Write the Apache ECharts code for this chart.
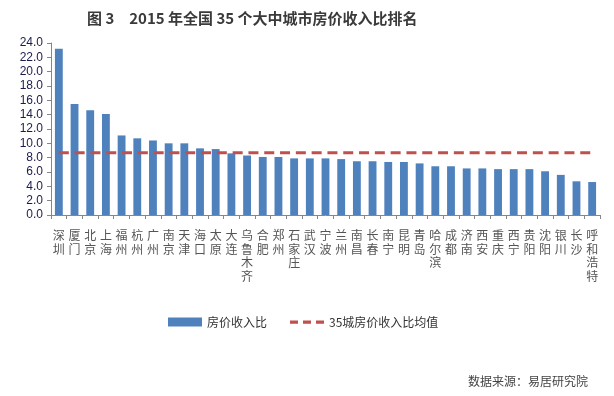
<!DOCTYPE html>
<html><head><meta charset="utf-8">
<script src="https://cdn.jsdelivr.net/npm/echarts@6/dist/echarts.min.js"></script>
<style>html,body{margin:0;padding:0;background:#fff}#c{width:614px;height:396px}</style>
</head><body><div id="c"></div>
<script>
const cities = ['深圳','厦门','北京','上海','福州','杭州','广州','南京','天津','海口','太原','大连','乌鲁木齐','合肥','郑州','石家庄','武汉','宁波','兰州','南昌','长春','南宁','昆明','青岛','哈尔滨','成都','济南','西安','重庆','西宁','贵阳','沈阳','银川','长沙','呼和浩特'];
const ratios = [23.2,15.5,14.6,14.1,11.1,10.7,10.4,10.0,10.0,9.3,9.2,8.6,8.3,8.1,8.1,7.9,7.9,7.9,7.8,7.5,7.5,7.4,7.4,7.2,6.8,6.8,6.5,6.5,6.4,6.4,6.4,6.1,5.6,4.7,4.6];
const avgValue = 8.7;
const yTicks = [0,2,4,6,8,10,12,14,16,18,20,22,24];
const titleText = '图 3　2015 年全国 35 个大中城市房价收入比排名';
const barName = '房价收入比';
const lineName = '35城房价收入比均值';
const sourceText = '数据来源：易居研究院';

const dashIcon = 'path://M0,0L0.01,0L0.01,9L0,9Z M0,3h8v3.2h-8z M13,3h8v3.2h-8z M26,3h8v3.2h-8z';

const chart = echarts.init(document.getElementById('c'), null, {renderer:'canvas'});
chart.setOption({
  animation:false,
  backgroundColor:'#fff',
  title:{text:titleText,left:82,top:6,textStyle:{fontFamily:'Noto Sans CJK SC',fontWeight:'bold',fontSize:15,color:'#3a3a3a'}},
  graphic:[{type:'text',right:26,top:375,style:{text:sourceText,fontFamily:'Noto Sans CJK SC',fontSize:12,fill:'#444'}}],
  legend:{
    left:168, top:316, padding:0, itemWidth:34, itemHeight:9, itemGap:23,
    textStyle:{fontFamily:'Noto Sans CJK SC',fontSize:12,color:'#333'},
    data:[{name:barName,icon:'rect'},{name:lineName,icon:dashIcon}]
  },
  grid:{left:51,right:14,top:43,bottom:181,containLabel:false},
  xAxis:{
    type:'category', data:cities, boundaryGap:true,
    axisLine:{lineStyle:{color:'#868686',width:1}},
    axisTick:{show:true,length:4,lineStyle:{color:'#868686'},alignWithLabel:false},
    axisLabel:{interval:0,margin:14,verticalAlign:'top',lineHeight:13.5,fontFamily:'Noto Sans CJK SC',fontSize:12,color:'#555',
      formatter:v=>v.split('').join('\n')}
  },
  yAxis:{
    type:'value', min:yTicks[0], max:yTicks[yTicks.length-1], interval:yTicks[1]-yTicks[0],
    splitLine:{show:false},
    axisLine:{show:true,lineStyle:{color:'#868686'}},
    axisTick:{show:true,length:4,lineStyle:{color:'#868686'}},
    axisLabel:{margin:8,fontFamily:'Liberation Sans',fontSize:12,color:'#1b1b4d',formatter:v=>v.toFixed(1)}
  },
  series:[
    {name:barName,type:'bar',data:ratios,barWidth:'50%',itemStyle:{color:'#4f81bd'}},
    {name:lineName,type:'line',data:cities.map(()=>avgValue),symbol:'none',
     lineStyle:{color:'#c0504d',width:3,type:[10,5.8]},itemStyle:{color:'#c0504d'},z:5}
  ]
});
</script></body></html>
